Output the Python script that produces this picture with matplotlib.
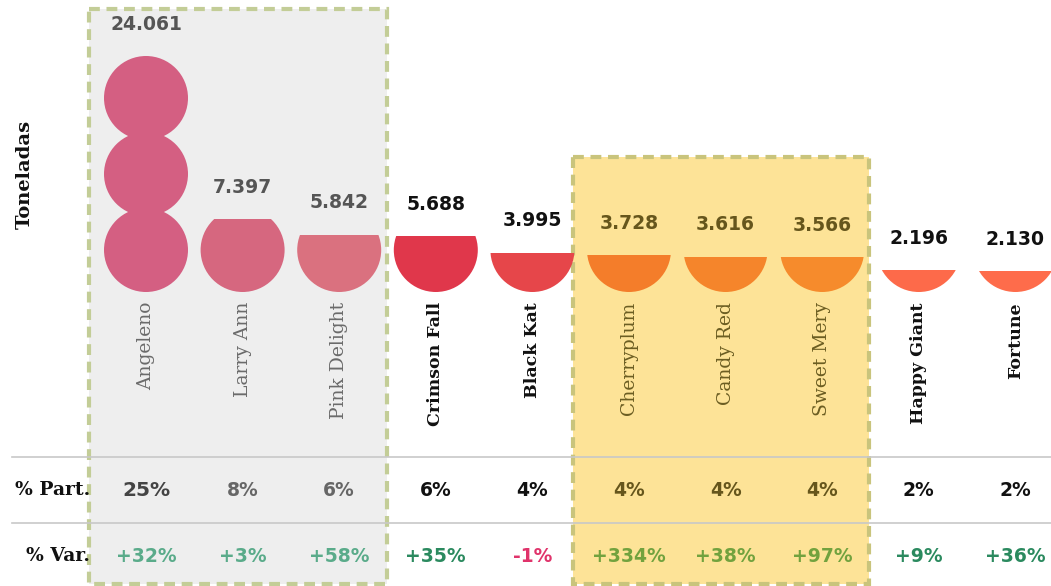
import matplotlib.pyplot as plt
from matplotlib.patches import Circle, Rectangle
import numpy as np

# datos
variedades = ['Angeleno', 'Larry Ann', 'Pink Delight', 'Crimson Fall', 'Black Kat',
              'Cherryplum', 'Candy Red', 'Sweet Mery', 'Happy Giant', 'Fortune']
toneladas = [24061, 7397, 5842, 5688, 3995, 3728, 3616, 3566, 2196, 2130]
part = ['25%', '8%', '6%', '6%', '4%', '4%', '4%', '4%', '2%', '2%']
var = ['+32%', '+3%', '+58%', '+35%', '-1%', '+334%', '+38%', '+97%', '+9%', '+36%']
grupo = ['gris', 'gris', 'gris', 'blanco', 'blanco',
         'amarillo', 'amarillo', 'amarillo', 'blanco', 'blanco']

colores = ['#d45f82', '#d6677f', '#da717f', '#e0374b', '#e6464a',
           '#f47d2a', '#f5852b', '#f68b2c', '#fd6a4a', '#fe6c4b']
col_num = {'gris': '#555555', 'blanco': '#111111', 'amarillo': '#66561c'}
col_cat = {'gris': '#6a6a6a', 'blanco': '#111111', 'amarillo': '#6b5d22'}
peso_cat = {'gris': 'normal', 'blanco': 'bold', 'amarillo': 'normal'}
tam_cat = {'gris': 13.5, 'blanco': 12.5, 'amarillo': 13.5}
col_var = {'gris': '#5aab8a', 'blanco': '#2b8a5f', 'amarillo': '#72a23e'}

fig = plt.figure(figsize=(10.51, 5.86), dpi=100)
ax = fig.add_axes([0, 0, 1, 1])
ax.set_xlim(0, 1051)
ax.set_ylim(586, 0)
ax.axis('off')

x0 = 146
paso = 96.6
xs = x0 + paso * np.arange(len(variedades))
r = 42
base = 292
sep = 76
px_por_ton = 236 / 24061

# cajas de resalte
ax.add_patch(Rectangle((89, 9), 298, 575, facecolor='#eeeeee', edgecolor='#c3cd97',
                       lw=3.0, linestyle=(0, (2.6, 1.6)), zorder=0))
ax.add_patch(Rectangle((573, 157), 296, 427, facecolor='#fde397', edgecolor='#c9c47c',
                       lw=3.0, linestyle=(0, (2.6, 1.6)), zorder=0))

for i, v in enumerate(toneladas):
    h = v * px_por_ton
    n = int(np.ceil(max(h - 2 * r, 0) / sep)) + 1
    clip = Rectangle((xs[i] - r - 2, base - h), 2 * r + 4, h, transform=ax.transData)
    for k in range(n):
        c = Circle((xs[i], base - r - k * sep), r, facecolor=colores[i], edgecolor='none', zorder=2)
        ax.add_patch(c)
        c.set_clip_path(clip)
    g = grupo[i]
    ax.text(xs[i], base - h - 32, f'{v:,}'.replace(',', '.'), ha='center', va='center',
            fontsize=13.5, fontweight='bold', color=col_num[g], zorder=3)
    ax.text(xs[i], 302, variedades[i], rotation=90, ha='center', va='top',
            fontsize=tam_cat[g], family='DejaVu Serif', fontweight=peso_cat[g], color=col_cat[g], zorder=3)
    ax.text(xs[i], 490, part[i], ha='center', va='center',
            fontsize=14.5 if i == 0 else 13.5, fontweight='bold',
            color='#444444' if i == 0 else ('#666666' if g == 'gris' else col_num[g]), zorder=3)
    cv = '#e0336b' if var[i].startswith('-') else col_var[g]
    ax.text(xs[i], 556, var[i], ha='center', va='center',
            fontsize=13.5, fontweight='bold', color=cv, zorder=3)

ax.plot([12, 1051], [457, 457], color='#c8c8c8', lw=1.2, zorder=1)
ax.plot([12, 1051], [523, 523], color='#c8c8c8', lw=1.2, zorder=1)

ax.text(90, 490, '% Part.', ha='right', va='center', fontsize=13.5,
        family='DejaVu Serif', fontweight='bold', color='#111111')
ax.text(90, 556, '% Var.', ha='right', va='center', fontsize=13.5,
        family='DejaVu Serif', fontweight='bold', color='#111111')
ax.text(25, 174, 'Toneladas', rotation=90, ha='center', va='center', fontsize=14,
        family='DejaVu Serif', fontweight='bold', color='#111111')

plt.savefig('out.png', dpi=100)
